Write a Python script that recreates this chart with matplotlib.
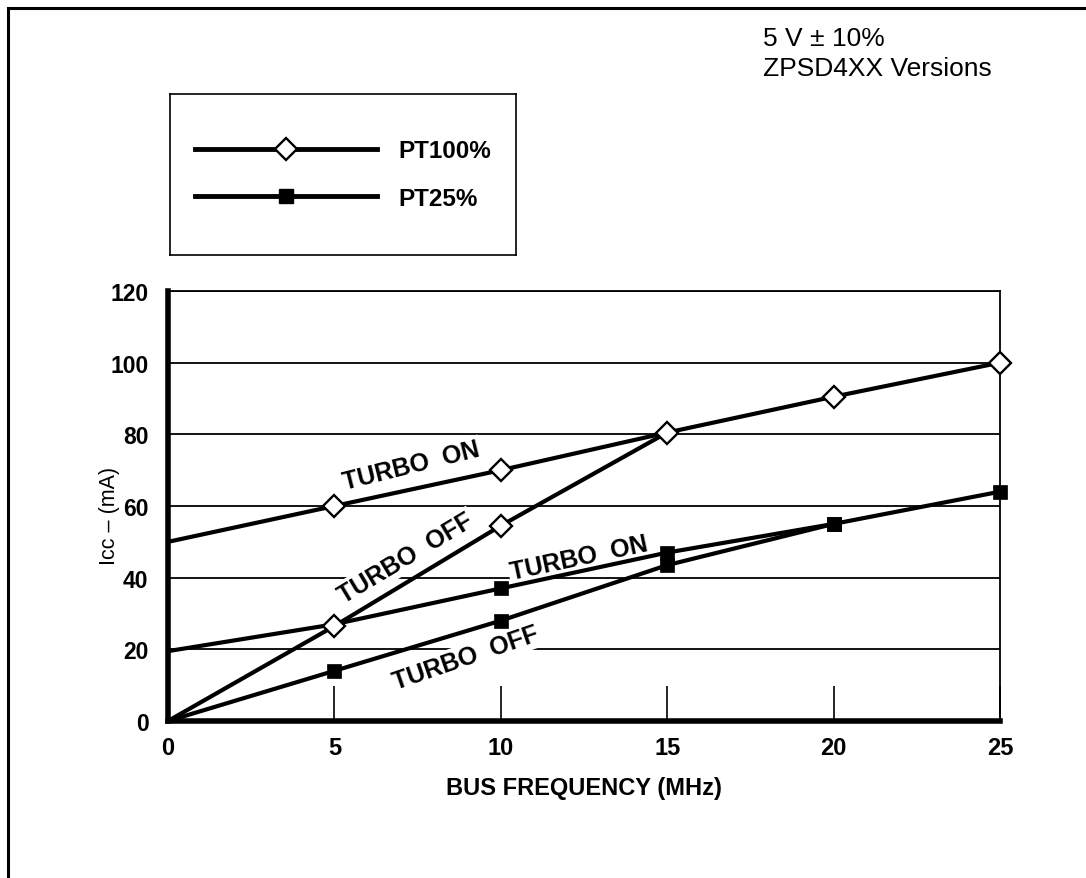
import matplotlib
matplotlib.use("Agg")
import matplotlib.pyplot as plt
from matplotlib.lines import Line2D
from matplotlib.patches import Rectangle

plt.rcParams['font.family'] = ['Liberation Sans', 'DejaVu Sans']

# ---- data ----
freq_full = [0, 5, 10, 15, 20, 25]
pt100_on = [50, 60, 70, 80.5, 90.5, 100]
freq_pt100_off = [0, 5, 10, 15]
pt100_off = [0, 26.5, 54.5, 80.5]
pt25_on = [19.5, 27, 37, 47, 55, 64]
freq_pt25_off = [0, 5, 10, 15, 20]
pt25_off = [0, 14, 28, 43.5, 55]

x_ticks = [0, 5, 10, 15, 20, 25]
y_ticks = [0, 20, 40, 60, 80, 100, 120]
legend_labels = ["PT100%", "PT25%"]
curve_labels = ["TURBO  ON", "TURBO  OFF", "TURBO  ON", "TURBO  OFF"]

W, H = 1086, 879
fig = plt.figure(figsize=(W / 100, H / 100), dpi=100)

# outer frame (top and left visible)
fig.add_artist(Rectangle((8 / W, -0.1), 1.2, 1 - 9 / H + 0.1, fill=False,
                         lw=2.2, edgecolor='black', transform=fig.transFigure))

ax = fig.add_axes([168 / W, 1 - 722 / H, 832 / W, 430 / H])
ax.set_xlim(0, 25)
ax.set_ylim(0, 120)

# spines
for s in ['left', 'bottom']:
    ax.spines[s].set_linewidth(4)
for s in ['top', 'right']:
    ax.spines[s].set_linewidth(1.3)

ax.set_axisbelow(True)
ax.yaxis.grid(True, color='black', lw=1.3)
ax.set_xticks(x_ticks)
ax.set_yticks(y_ticks)
ax.tick_params(axis='x', direction='in', length=25, width=1.2, pad=11,
               labelsize=17)
ax.tick_params(axis='y', length=0, pad=14, labelsize=16.5)
for lab in ax.get_xticklabels() + ax.get_yticklabels():
    lab.set_fontweight('bold')

ax.set_xlabel("BUS FREQUENCY (MHz)", fontsize=17, fontweight='bold')
ax.xaxis.set_label_coords(0.5, -0.128)
ax.set_ylabel("Icc – (mA)", fontsize=15.5)
ax.yaxis.set_label_coords(-0.058, 0.48)

lw = 3.0
line_kw = dict(color='black', lw=lw, zorder=3, solid_capstyle='butt')
ax.plot(freq_full, pt100_on, **line_kw)
ax.plot(freq_pt100_off, pt100_off, **line_kw)
ax.plot(freq_full, pt25_on, **line_kw)
ax.plot(freq_pt25_off, pt25_off, **line_kw)

dia = dict(marker='D', ms=10.8, mfc='white', mec='black', mew=1.7,
           linestyle='none', zorder=5, clip_on=False)
sq = dict(marker='s', ms=10, mfc='black', mec='black', mew=0.5,
          linestyle='none', zorder=4, clip_on=False)
ax.plot(freq_full, pt100_on, markevery=[1, 2, 3, 4, 5], **dia)
ax.plot(freq_pt100_off, pt100_off, markevery=[1, 2], **dia)
ax.plot(freq_full, pt25_on, markevery=[2, 3, 4, 5], **sq)
ax.plot(freq_pt25_off, pt25_off, markevery=[1, 2, 3, 4], **sq)

# curve labels
txt_kw = dict(fontsize=18, fontweight='bold', ha='center', va='center',
              zorder=2, rotation_mode='anchor',
              bbox=dict(facecolor='white', edgecolor='none', pad=1.5))
ax.text(7.3, 71.3, curve_labels[0], rotation=14, **txt_kw)
ax.text(7.15, 45.5, curve_labels[1], rotation=31, **txt_kw)
ax.text(12.35, 45.6, curve_labels[2], rotation=12, **txt_kw)
ax.text(8.95, 17.6, curve_labels[3], rotation=19, **txt_kw)

# top right notes
fig.text(763 / W, 1 - 39 / H, "5 V ± 10%", fontsize=19, va='center', ha='left')
fig.text(763 / W, 1 - 69 / H, "ZPSD4XX Versions", fontsize=19, va='center', ha='left')

# legend box
lax = fig.add_axes([170 / W, 1 - 256 / H, 346 / W, 161 / H])
lax.set_xticks([])
lax.set_yticks([])
for s in lax.spines.values():
    s.set_linewidth(1.2)
handles = [
    Line2D([], [], color='black', lw=3.5, marker='D', ms=10.8, mfc='white',
           mec='black', mew=1.7),
    Line2D([], [], color='black', lw=3.5, marker='s', ms=10, mfc='black',
           mec='black'),
]
lax.legend(handles, legend_labels, loc='center', frameon=False, numpoints=1,
           handlelength=7.5, handletextpad=0.9, labelspacing=1.0,
           prop=dict(size=17.5, weight='bold'))

fig.savefig("out.png", dpi=100)
